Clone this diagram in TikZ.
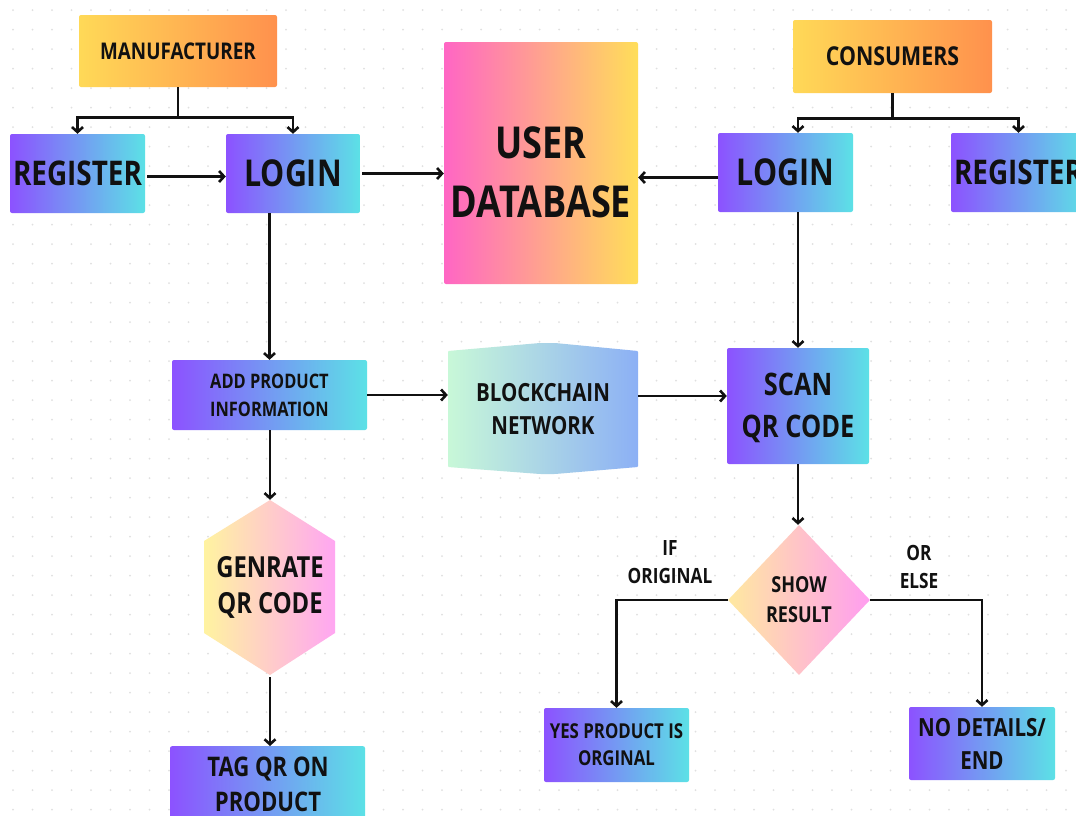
\documentclass[tikz,border=0pt]{standalone}
\usepackage{fontspec}
\setmainfont{Open Sans}[FakeStretch=0.82]
\usetikzlibrary{arrows.meta,shapes.geometric}
\definecolor{pv}{HTML}{8C52FF}
\definecolor{cy}{HTML}{5CE1E6}
\definecolor{yl}{HTML}{FFD957}
\definecolor{og}{HTML}{FF914D}
\definecolor{pk}{HTML}{FF66C4}
\definecolor{dbyl}{HTML}{FFDE59}
\definecolor{mint}{HTML}{C8F8D8}
\definecolor{bcblue}{HTML}{8CB0F5}
\definecolor{lyel}{HTML}{FFF3A0}
\definecolor{lpink}{HTML}{FFA6F2}
\definecolor{dyel}{HTML}{FFE9A0}
\definecolor{dpink}{HTML}{FF9DF0}
\definecolor{dotc}{HTML}{E0E0E0}
\definecolor{ink}{HTML}{111111}
\newcommand\myfs[2]{\fontsize{#1}{#2}\selectfont}
\tikzset{
 box/.style={rectangle, rounded corners=2pt, inner sep=0pt, align=center, text=ink},
 pbox/.style={box, left color=pv, right color=cy},
 obox/.style={box, left color=yl, right color=og},
 lbl/.style={inner sep=0pt, align=center, text=ink},
 conn/.style={line width=2.6pt, draw=ink},
 arr/.style={conn, -{Straight Barb[length=5pt,width=11pt]}},
}
\begin{document}
\begin{tikzpicture}[x=1pt,y=-1pt]
\useasboundingbox (0,0) rectangle (1076,815);
\fill[white] (0,0) rectangle (1076,815);
\clip (0,0) rectangle (1076,815);
% dotted grid
\foreach \i in {0,...,55}{
  \foreach \j in {0,...,42}{
    \fill[dotc] (13+19.5*\i,10+19.5*\j) circle (1pt);
  }
}
% manufacturer side
\node[obox, minimum width=198pt, minimum height=72pt, font=\bfseries\myfs{23}{28}] (man) at (178,51) {MANUFACTURER};
\node[pbox, minimum width=135pt, minimum height=79pt, font=\bfseries\myfs{34}{40}] (regL) at (77.5,173.5) {REGISTER};
\node[pbox, minimum width=134pt, minimum height=79pt, font=\bfseries\myfs{37}{44}] (logL) at (293,173.5) {LOGIN};
\node[box, left color=pk, right color=dbyl, minimum width=194pt, minimum height=242pt] (db) at (541,163) {};
\node[lbl, font=\bfseries\myfs{44}{59}] (dbt) at (541,172) {USER\\DATABASE};
% consumer side
\node[obox, minimum width=199pt, minimum height=73pt, font=\bfseries\myfs{26}{30}] (con) at (892.5,56.5) {CONSUMERS};
\node[pbox, minimum width=135pt, minimum height=79pt, font=\bfseries\myfs{37}{44}] (logR) at (785.5,172.5) {LOGIN};
\node[pbox, minimum width=135pt, minimum height=79pt, font=\bfseries\myfs{34}{40}] (regR) at (1018.5,172.5) {REGISTER};
% middle row
\node[pbox, minimum width=195pt, minimum height=70pt, font=\bfseries\myfs{20}{28}] (add) at (269.5,395) {ADD PRODUCT\\INFORMATION};
\shade[left color=mint, right color=bcblue, rounded corners=1pt] (448,351) -- (540,343) -- (555,343) -- (638,351) -- (638,467) -- (555,474) -- (540,474) -- (448,467) -- cycle;
\node[lbl, minimum width=190pt, minimum height=117pt, font=\bfseries\myfs{25}{33}] (bc) at (543,409) {BLOCKCHAIN\\NETWORK};
\node[pbox, minimum width=142pt, minimum height=116pt, font=\bfseries\myfs{31}{42}] (scan) at (798,406) {};
\node[lbl, font=\bfseries\myfs{31}{42}] (scant) at (798,408) {SCAN\\QR CODE};
% lower left
\shade[left color=lyel, right color=lpink] (270,500) -- (335,541) -- (335,633) -- (270,675) -- (204,633) -- (204,541) -- cycle;
\node[lbl, minimum width=131pt, minimum height=175pt, font=\bfseries\myfs{29}{36}] (hex) at (270,587.5) {GENRATE\\QR CODE};
\node[pbox, minimum width=195pt, minimum height=90pt, anchor=north] (tag) at (267.5,746) {};
\node[lbl, font=\bfseries\myfs{27}{35}] (tagt) at (268,784) {TAG QR ON\\PRODUCT};
% lower right
\node[diamond, shape aspect=0.95, left color=dyel, right color=dpink, minimum width=142pt, minimum height=150pt, inner sep=0pt, align=center, text=ink, font=\bfseries\myfs{22}{30}] (dia) at (799,600) {SHOW\\RESULT};
\node[pbox, minimum width=145pt, minimum height=74pt, font=\bfseries\myfs{20.5}{27}] (yes) at (616.5,745) {YES PRODUCT IS\\ORGINAL};
\node[pbox, minimum width=146pt, minimum height=73pt, font=\bfseries\myfs{25}{33}] (no) at (982,743.5) {NO DETAILS/\\END};
\node[lbl, font=\bfseries\myfs{21}{28}] (ifo) at (670,562) {IF\\ORIGINAL};
\node[lbl, font=\bfseries\myfs{21}{28}] (ore) at (919,567) {OR\\ELSE};
% connectors
\draw[conn] (man.south) -- ++(0,30) coordinate (mj);
\draw[arr] (mj) -| (regL.north);
\draw[arr] (mj) -| (logL.north);
\draw[arr] (regL.east) ++(2,3) coordinate (r1) (r1) -- (r1 -| logL.west);
\draw[arr] (logL.east) ++(2,0) coordinate (l1) (l1) -- (l1 -| db.west);
\draw[conn] (con.south) -- ++(0,25) coordinate (cj);
\draw[arr] (cj) -| (logR.north -| scan.north);
\draw[arr] (cj) -| (regR.north);
\draw[arr] (logR.west) ++(0,5) coordinate (l2) (l2) -- (l2 -| db.east);
\draw[arr] (logL.south -| add.north) -- (add.north);
\draw[arr] (logR.south -| scan.north) -- (scan.north);
\draw[arr] (add.east) -- (add.east -| bc.west);
\draw[arr] (bc.east |- add.east) ++(0,1) coordinate (b1) (b1) -- (b1 -| scan.west);
\draw[arr] (add.south -| hex.north) -- (hex.north);
\draw[arr] (hex.south) ++(0,2) coordinate (h1) (h1) -- (h1 |- tag.north);
\draw[arr] (scan.south) -- (scan.south |- dia.north);
\draw[arr] (dia.west) -| (yes.north);
\draw[arr] (dia.east) -| (no.north);
\end{tikzpicture}
\end{document}
